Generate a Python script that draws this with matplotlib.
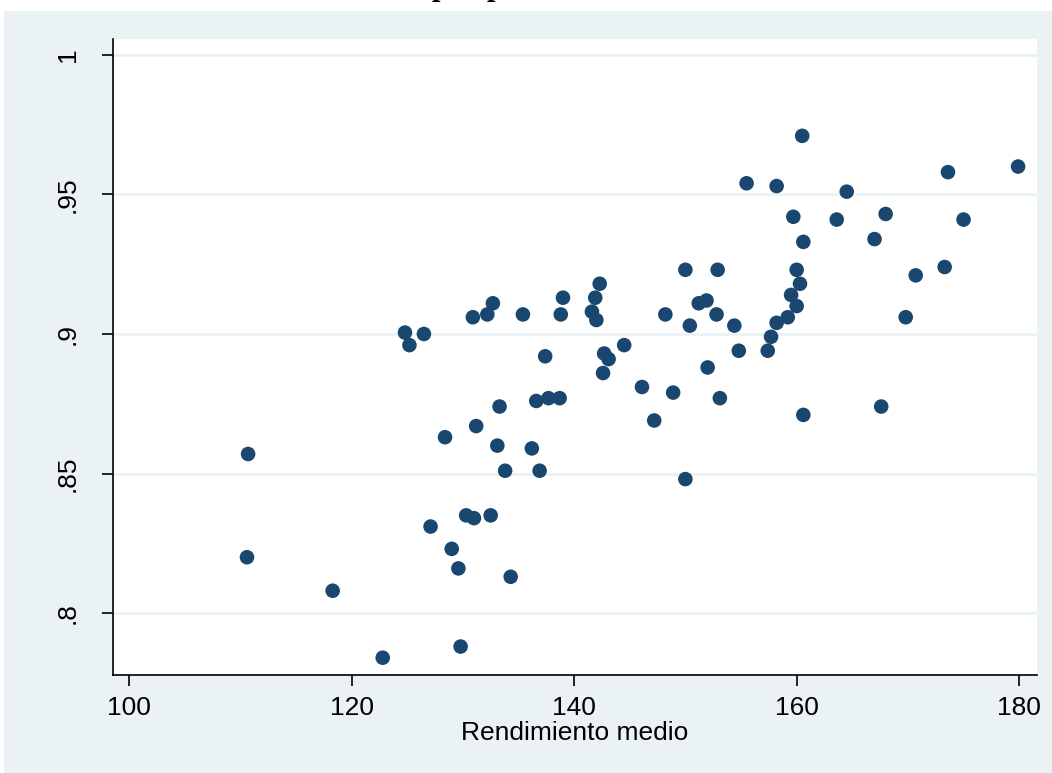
import matplotlib
matplotlib.use("Agg")
import matplotlib.pyplot as plt

# Rendimiento medio (x) vs eficiencia (y)
rendimiento = [110.7, 110.6, 118.3, 122.8, 124.8, 125.2, 126.5, 127.1, 128.4, 129.0,
               129.6, 129.8, 130.3, 131.0, 130.9, 131.2, 132.2, 132.5, 132.7, 133.1,
               133.3, 133.8, 134.3, 135.4, 136.2, 136.6, 136.9, 137.4, 137.7, 138.7,
               138.8, 139.0, 141.6, 141.9, 142.0, 142.3, 142.6, 142.7, 143.1, 144.5,
               146.1, 147.2, 148.2, 148.9, 150.0, 150.0, 150.4, 151.2, 151.9, 152.0,
               152.8, 152.9, 153.1, 154.4, 154.8, 155.5, 157.4, 157.7, 158.2, 158.2,
               159.2, 159.5, 159.7, 160.0, 160.0, 160.3, 160.5, 160.6, 160.6, 163.6,
               164.5, 167.0, 167.6, 168.0, 169.8, 170.7, 173.3, 173.6, 175.0, 179.9]
eficiencia = [0.857, 0.820, 0.808, 0.784, 0.9005, 0.896, 0.900, 0.831, 0.863, 0.823,
              0.816, 0.788, 0.835, 0.834, 0.906, 0.867, 0.907, 0.835, 0.911, 0.860,
              0.874, 0.851, 0.813, 0.907, 0.859, 0.876, 0.851, 0.892, 0.877, 0.877,
              0.907, 0.913, 0.908, 0.913, 0.905, 0.918, 0.886, 0.893, 0.891, 0.896,
              0.881, 0.869, 0.907, 0.879, 0.848, 0.923, 0.903, 0.911, 0.912, 0.888,
              0.907, 0.923, 0.877, 0.903, 0.894, 0.954, 0.894, 0.899, 0.953, 0.904,
              0.906, 0.914, 0.942, 0.923, 0.910, 0.918, 0.971, 0.933, 0.871, 0.941,
              0.951, 0.934, 0.874, 0.943, 0.906, 0.921, 0.924, 0.958, 0.941, 0.960]

x_ticks = [100, 120, 140, 160, 180]
y_ticks = [0.8, 0.85, 0.9, 0.95, 1.0]
y_ticklabels = [".8", ".85", ".9", ".95", "1"]

plt.rcParams['font.family'] = ['Liberation Sans', 'DejaVu Sans']
bg = '#EAF2F3'
navy = '#1A476F'

fig = plt.figure(figsize=(10.52, 7.73), dpi=100, facecolor='white')
# outer light panel (Stata style); the title is cut off at the top edge
fig.add_artist(plt.Rectangle((4 / 1052, 0), 1.0, 1 - 11 / 773,
                             transform=fig.transFigure, facecolor=bg,
                             edgecolor='none', zorder=-10))
for xp in (440, 495):
    fig.text(xp / 1052, 1 + 5 / 773, "p", family='Liberation Serif',
             fontweight='bold', fontsize=22, ha='center', va='baseline')

ax = fig.add_axes([113 / 1052, 1 - 675 / 773, (1037 - 113) / 1052, (675 - 39) / 773])
ax.set_zorder(1)
ax.set_facecolor('white')
ax.scatter(rendimiento, eficiencia, s=110, color=navy, edgecolors='none', zorder=3)

ax.set_xlim(98.56, 181.6)
ax.set_ylim(0.7778, 1.0057)
ax.set_xticks(x_ticks)
ax.set_yticks(y_ticks)
ax.set_yticklabels(y_ticklabels, rotation=90, va='center')
ax.grid(axis='y', color=bg, linewidth=2)
ax.set_axisbelow(True)

for side in ('top', 'right'):
    ax.spines[side].set_visible(False)
for side in ('left', 'bottom'):
    ax.spines[side].set_linewidth(1.2)
ax.tick_params(axis='both', length=8, width=1.2, labelsize=19, pad=7)
ax.tick_params(axis='y', pad=16)
ax.set_xlabel("Rendimiento medio", fontsize=19, labelpad=1)

fig.savefig("out.png", dpi=100, facecolor=fig.get_facecolor())
